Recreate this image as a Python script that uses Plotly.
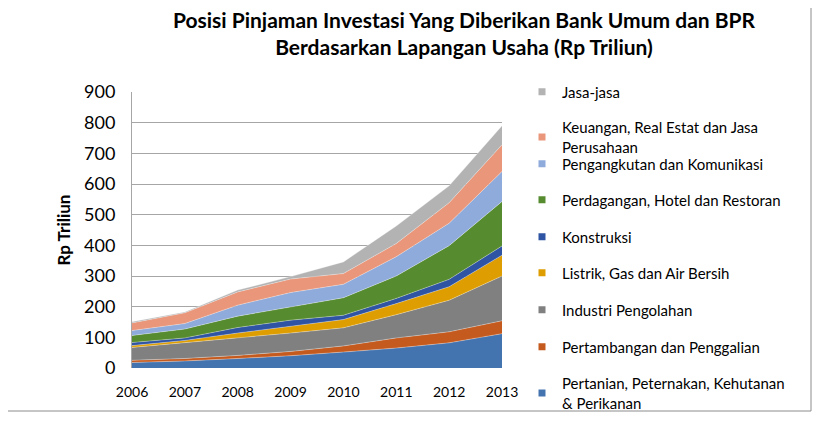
import plotly.graph_objects as go

years = [2006, 2007, 2008, 2009, 2010, 2011, 2012, 2013]

series_names = [
    "Pertanian, Peternakan, Kehutanan<br>& Perikanan",
    "Pertambangan dan Penggalian",
    "Industri Pengolahan",
    "Listrik, Gas dan Air Bersih",
    "Konstruksi",
    "Perdagangan, Hotel dan Restoran",
    "Pengangkutan dan Komunikasi",
    "Keuangan, Real Estat dan Jasa<br>Perusahaan",
    "Jasa-jasa",
]

pertanian = [18, 23, 31, 40, 52, 65, 82, 112]
pertambangan = [7, 8, 10, 14, 20, 33, 36, 42]
industri = [42, 51, 56, 60, 59, 76, 103, 146]
listrik = [6, 8, 17, 23, 27, 36, 44, 68]
konstruksi = [10, 8, 18, 19, 14, 17, 24, 30]
perdagangan = [23, 29, 37, 43, 57, 73, 110, 145]
pengangkutan = [16, 18, 36, 47, 44, 63, 73, 98]
keuangan = [25, 35, 43, 44, 35, 43, 67, 87]
jasa = [4, 3, 6, 8, 38, 57, 55, 62]

values = [pertanian, pertambangan, industri, listrik, konstruksi,
          perdagangan, pengangkutan, keuangan, jasa]

colors = ["#4474B0", "#C55A1E", "#808080", "#DE9D00", "#2F54A3",
          "#568B2F", "#8EABDB", "#E9967A", "#B3B3B3"]

OFF = 8  # page body margin of the browser
# legend item centres (pixels from top of page)
legend_centres_px = [393, 347, 310, 273, 237, 200, 164, 137, 92]

FONT = "Lato"
W, H = 829, 423
ML, MT = 132 - OFF, 92 - OFF
PW, PH = 370, 276
MR, MB = W - ML - PW, H - MT - PH

fig = go.Figure()

for name, vals, col in zip(series_names, values, colors):
    fig.add_trace(go.Scatter(
        x=years, y=vals, name=name, stackgroup="one", mode="lines",
        line=dict(width=0.7, color="rgba(255,255,255,0.45)"),
        fillcolor=col, showlegend=False, hoverinfo="x+y+name",
    ))

layout_legends = {}
for i, (name, col, cy) in enumerate(zip(series_names, colors, legend_centres_px)):
    key = "legend" if i == 0 else f"legend{i+1}"
    fig.add_trace(go.Scatter(
        x=[None], y=[None], name=name, mode="markers",
        marker=dict(symbol="square", size=7, color=col),
        showlegend=True, legend=key,
    ))
    layout_legends[key] = dict(
        x=(522 - OFF - ML) / PW, xanchor="left",
        y=(MT + PH - (cy - OFF)) / PH, yanchor="middle",
        bgcolor="rgba(0,0,0,0)", borderwidth=0,
        font=dict(family=FONT, size=15, color="#000000"),
        itemwidth=30, tracegroupgap=0,
    )

fig.update_layout(
    width=W, height=H,
    margin=dict(l=ML, r=MR, t=MT, b=MB, autoexpand=False),
    paper_bgcolor="white", plot_bgcolor="white",
    font=dict(family=FONT, color="#000000"),
    title=dict(
        text="<b>Posisi Pinjaman Investasi Yang Diberikan Bank Umum dan BPR<br>Berdasarkan Lapangan Usaha (Rp Triliun)</b>",
        x=(464 - OFF) / W, xanchor="center", y=1 - 19.5 / H, yanchor="middle",
        font=dict(family=FONT, size=21, color="#000000", weight=700),
    ),
    xaxis=dict(
        range=[2006, 2013], tickmode="array", tickvals=years,
        ticktext=[str(y) for y in years], automargin=False,
        showgrid=False, zeroline=False, showline=False, ticks="",
        tickfont=dict(family=FONT, size=14, color="#000000"),
        ticklabelstandoff=14,
    ),
    yaxis=dict(
        range=[0, 900], tickmode="array", tickvals=list(range(0, 901, 100)),
        automargin=False,
        showgrid=True, gridcolor="#A6A6A6", gridwidth=1,
        zeroline=False, showline=True, linecolor="#A6A6A6", linewidth=1,
        ticks="", tickfont=dict(family=FONT, size=18, color="#000000"),
        ticklabelstandoff=12,
        title=dict(text="<b>Rp Triliun</b>", font=dict(family=FONT, size=17, color="#000000"), standoff=9),
    ),
    **layout_legends,
)

# outer chart frame (right and bottom edges visible)
fig.add_shape(type="rect", xref="paper", yref="paper",
              x0=-2, x1=(811 - OFF - ML) / PW, y0=(MT + PH - (411 - OFF)) / PH, y1=3,
              line=dict(color="#8C8C8C", width=1), fillcolor="rgba(0,0,0,0)", layer="below")

fig.write_html("out.html")
